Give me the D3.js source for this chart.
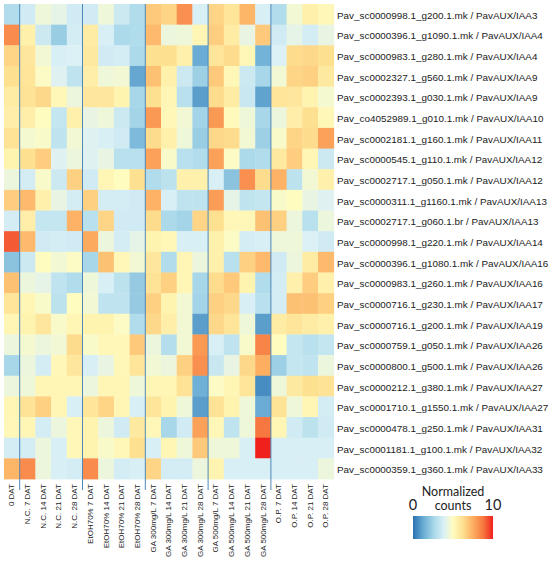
<!DOCTYPE html>
<html>
<head>
<meta charset="utf-8">
<script src="https://cdn.jsdelivr.net/npm/d3@7"></script>
<style>
  body { margin: 0; background: #fff; }
  svg text { font-family: "Liberation Sans", Arial, sans-serif; fill: #222; }
</style>
</head>
<body>
<svg id="chart" width="550" height="561"></svg>
<script>
const genes = [
  'Pav_sc0000998.1_g200.1.mk / PavAUX/IAA3',
  'Pav_sc0000396.1_g1090.1.mk / PavAUX/IAA4',
  'Pav_sc0000983.1_g280.1.mk / PavAUX/IAA4',
  'Pav_sc0002327.1_g560.1.mk / PavAUX/IAA9',
  'Pav_sc0002393.1_g030.1.mk / PavAUX/IAA9',
  'Pav_co4052989.1_g010.1.mk / PavAUX/IAA10',
  'Pav_sc0002181.1_g160.1.mk / PavAUX/IAA11',
  'Pav_sc0000545.1_g110.1.mk / PavAUX/IAA12',
  'Pav_sc0002717.1_g050.1.mk / PavAUX/IAA12',
  'Pav_sc0000311.1_g1160.1.mk / PavAUX/IAA13',
  'Pav_sc0002717.1_g060.1.br / PavAUX/IAA13',
  'Pav_sc0000998.1_g220.1.mk / PavAUX/IAA14',
  'Pav_sc0000396.1_g1080.1.mk / PavAUX/IAA16',
  'Pav_sc0000983.1_g260.1.mk / PavAUX/IAA16',
  'Pav_sc0000716.1_g230.1.mk / PavAUX/IAA17',
  'Pav_sc0000716.1_g200.1.mk / PavAUX/IAA19',
  'Pav_sc0000759.1_g050.1.mk / PavAUX/IAA26',
  'Pav_sc0000800.1_g500.1.mk / PavAUX/IAA26',
  'Pav_sc0000212.1_g380.1.mk / PavAUX/IAA27',
  'Pav_sc0001710.1_g1550.1.mk / PavAUX/IAA27',
  'Pav_sc0000478.1_g250.1.mk / PavAUX/IAA31',
  'Pav_sc0001181.1_g100.1.mk / PavAUX/IAA32',
  'Pav_sc0000359.1_g360.1.mk / PavAUX/IAA33'
];

const samples = [
  '0 DAT',
  'N.C. 7 DAT', 'N.C. 14 DAT', 'N.C. 21 DAT', 'N.C. 28 DAT',
  'EtOH70% 7 DAT', 'EtOH70% 14 DAT', 'EtOH70% 21 DAT', 'EtOH70% 28 DAT',
  'GA 300mg/L 7 DAT', 'GA 300mg/L 14 DAT', 'GA 300mg/L 21 DAT', 'GA 300mg/L 28 DAT',
  'GA 500mg/L 7 DAT', 'GA 500mg/L 14 DAT', 'GA 500mg/L 21 DAT', 'GA 500mg/L 28 DAT',
  'O.P. 7 DAT', 'O.P. 14 DAT', 'O.P. 21 DAT', 'O.P. 28 DAT'
];

// group boundaries (index of first sample in each treatment after 0 DAT)
const groupStarts = [1, 5, 9, 13, 17];

// normalized counts, one row per gene, one value per sample (0..10)
const counts = [
  [2.8,3.6,4.5,4.2,3.6, 3.6,4.5,3.5,2.8, 6.8,6.5,8.2,3.8, 6.5,6.0,7.3,3.8, 2.8,4.6,5.5,5.2],
  [8.3,5.5,3.5,2.3,3.7, 5.7,3.8,2.7,2.8, 7.2,4.4,4.5,5.3, 6.7,5.7,4.3,6.8, 3.6,4.2,3.7,4.3],
  [6.5,5.9,4.6,3.8,3.9, 5.8,3.6,3.7,2.7, 6.2,6.2,5.5,1.3, 6.0,6.3,5.2,1.5, 3.9,6.3,6.4,6.2],
  [6.2,6.0,4.9,4.0,3.2, 5.6,4.5,4.6,1.2, 7.0,5.5,3.5,2.4, 6.8,5.2,3.5,2.6, 4.6,6.5,6.6,5.8],
  [5.7,6.1,6.4,5.2,4.4, 5.9,5.9,5.4,2.6, 6.2,5.3,3.0,1.0, 6.3,5.7,3.4,1.1, 6.0,5.9,5.4,4.7],
  [5.6,5.6,5.0,3.3,5.5, 4.3,4.5,3.5,2.5, 8.0,5.2,4.6,2.5, 8.0,5.1,4.5,2.6, 4.4,5.6,6.2,5.2],
  [6.1,4.7,4.8,3.2,4.6, 4.0,3.8,3.6,1.7, 6.3,5.5,4.5,2.3, 6.4,6.3,4.6,2.4, 4.8,6.5,6.3,7.8],
  [5.4,6.2,6.7,4.0,4.4, 4.0,4.3,3.0,3.0, 7.8,4.8,3.0,2.8, 7.8,4.9,2.7,2.8, 5.8,6.7,5.3,3.5],
  [4.4,3.7,4.8,3.5,6.6, 3.6,5.3,5.0,6.2, 2.8,3.1,5.5,5.5, 3.8,2.0,8.2,6.3, 7.4,3.1,4.6,5.5],
  [6.7,7.2,5.5,4.3,3.7, 6.6,3.7,3.7,3.6, 7.4,3.8,3.2,3.2, 7.9,4.2,3.2,3.3, 4.8,5.0,4.3,4.0],
  [3.7,5.6,3.3,3.3,7.4, 3.0,6.5,3.6,3.6, 6.3,2.7,2.5,6.5, 6.2,5.2,5.2,7.0, 6.6,4.4,3.0,4.4],
  [9.2,7.2,3.6,3.7,3.6, 7.6,4.4,3.7,4.2, 5.4,5.2,3.8,3.8, 5.5,4.9,3.7,3.8, 4.5,4.5,3.9,3.6],
  [2.0,3.5,5.0,4.6,4.9, 2.6,7.0,5.2,4.6, 5.9,2.8,5.3,4.4, 5.5,3.0,6.6,7.2, 3.6,4.4,5.7,7.2],
  [7.0,4.4,4.2,3.2,2.8, 4.5,3.8,3.1,2.2, 6.1,6.6,5.3,2.6, 6.3,6.8,5.4,2.8, 3.7,5.5,6.7,5.5],
  [6.0,5.3,4.8,3.1,5.0, 4.6,3.2,3.2,2.2, 6.6,5.4,4.6,2.5, 6.6,6.4,3.8,3.0, 3.7,7.0,7.0,6.6],
  [5.3,5.4,5.9,4.8,5.3, 5.4,5.4,4.9,2.8, 6.4,5.6,4.6,1.0, 6.4,6.0,4.5,1.0, 5.7,6.0,5.7,5.5],
  [4.4,4.7,4.4,4.6,6.3, 4.8,5.2,5.2,6.8, 4.4,2.9,4.6,8.0, 3.8,3.2,4.8,8.5, 5.0,3.3,3.0,3.3],
  [2.6,4.4,3.7,5.2,5.9, 3.8,4.3,5.2,6.0, 4.6,4.4,6.6,8.2, 3.4,4.3,6.4,7.5, 2.4,3.3,3.2,4.4],
  [4.4,4.5,5.3,5.3,5.3, 4.4,5.3,5.3,4.5, 5.3,5.3,6.1,1.4, 4.9,5.3,6.0,0.6, 4.5,5.8,6.2,6.1],
  [5.3,6.1,6.6,5.3,3.8, 6.0,6.5,5.3,3.8, 6.0,5.4,4.5,1.0, 6.1,5.4,4.5,1.3, 6.1,4.5,5.3,3.7],
  [5.2,5.3,3.7,4.4,5.2, 5.4,4.4,3.6,5.8, 5.2,2.6,3.6,7.8, 5.2,3.2,4.5,8.8, 5.3,3.6,3.1,3.6],
  [3.7,3.7,4.4,3.8,5.2, 5.4,4.8,5.2,6.2, 3.8,5.3,4.5,6.8, 4.5,4.5,3.8,10.0, 3.8,3.8,3.8,3.8],
  [7.3,8.3,4.4,3.8,3.7, 8.3,4.4,3.7,3.8, 6.5,3.7,3.7,4.4, 5.4,3.8,3.8,3.8, 3.8,3.8,3.8,4.4]
];

const legendTicks = [0, 10];

const svg = d3.select('#chart');

const x = d3.scaleBand().domain(d3.range(samples.length)).range([4, 333.7]);
const y = d3.scaleBand().domain(d3.range(genes.length)).range([4, 479]);

const colorStops = [0, 1.4, 2.7, 3.9, 5, 6.2, 7.5, 8.8, 10];
const color = d3.scaleLinear()
  .domain(colorStops)
  .range(['#2a72b2', '#6fb0d6', '#acdaea', '#dcf1f6', '#fffcc0', '#fee091', '#fdae61', '#f6773f', '#f0201c'])
  .interpolate(d3.interpolateRgb)
  .clamp(true);

// cells
const cells = [];
counts.forEach((row, i) => row.forEach((v, j) => cells.push({ i, j, v })));

svg.append('g')
  .selectAll('rect')
  .data(cells)
  .join('rect')
  .attr('x', d => x(d.j))
  .attr('y', d => y(d.i))
  .attr('width', x.bandwidth() + 0.4)
  .attr('height', y.bandwidth() + 0.4)
  .attr('fill', d => color(d.v));

// treatment separators
svg.append('g')
  .selectAll('line')
  .data(groupStarts)
  .join('line')
  .attr('x1', d => x(d))
  .attr('x2', d => x(d))
  .attr('y1', 4)
  .attr('y2', 490)
  .attr('stroke', '#4f88b8')
  .attr('stroke-width', 1);

// gene labels
svg.append('g')
  .selectAll('text')
  .data(genes)
  .join('text')
  .attr('x', 337)
  .attr('y', (d, i) => y(i) + y.bandwidth() / 2 + 1)
  .attr('dominant-baseline', 'central')
  .attr('font-size', 9.9)
  .text(d => d);

// sample labels
svg.append('g')
  .selectAll('text')
  .data(samples)
  .join('text')
  .attr('transform', (d, j) => `translate(${x(j) + x.bandwidth() / 2},484) rotate(-90)`)
  .attr('text-anchor', 'end')
  .attr('dominant-baseline', 'central')
  .attr('font-size', 8)
  .text(d => d);

// legend
const lx = d3.scaleLinear().domain([0, 10]).range([413, 493]);
const defs = svg.append('defs');
const grad = defs.append('linearGradient').attr('id', 'legGrad');
grad.selectAll('stop')
  .data(colorStops)
  .join('stop')
  .attr('offset', d => (d / 10 * 100) + '%')
  .attr('stop-color', d => color(d));

svg.append('rect')
  .attr('x', lx(0))
  .attr('y', 516)
  .attr('width', lx(10) - lx(0))
  .attr('height', 23)
  .attr('fill', 'url(#legGrad)');

svg.append('g')
  .selectAll('text')
  .data(legendTicks)
  .join('text')
  .attr('x', d => lx(d))
  .attr('y', 510)
  .attr('text-anchor', 'middle')
  .attr('font-size', 14.5)
  .style('font-family', 'Lato, "Liberation Sans", sans-serif')
  .text(d => d);

svg.append('text')
  .attr('x', 453)
  .attr('y', 496)
  .attr('text-anchor', 'middle')
  .attr('font-size', 12.5)
  .style('font-family', 'Lato, "Liberation Sans", sans-serif')
  .text('Normalized');

svg.append('text')
  .attr('x', 453)
  .attr('y', 510)
  .attr('text-anchor', 'middle')
  .attr('font-size', 12.5)
  .style('font-family', 'Lato, "Liberation Sans", sans-serif')
  .text('counts');
</script>
</body>
</html>
